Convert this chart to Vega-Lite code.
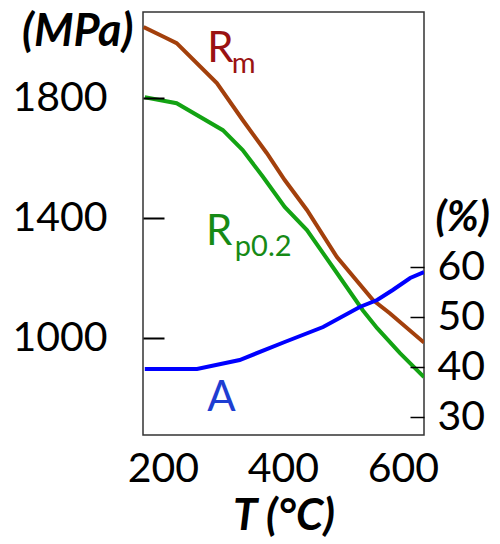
{
  "$schema": "https://vega.github.io/schema/vega-lite/v6.json",
  "width": 281,
  "height": 423,
  "autosize": {"type": "none"},
  "padding": {"left": 143, "top": 12, "right": 76, "bottom": 109},
  "config": {
    "view": {"stroke": "#333333", "strokeWidth": 1.5},
    "font": "Lato",
    "axis": {"grid": false, "labelFont": "Lato", "titleFont": "Lato", "labelColor": "#000000", "titleColor": "#000000", "labelFontSize": 41}
  },
  "datasets": {
    "mpa": [
      {"series": "Rm", "T": 168, "MPa": 2037},
      {"series": "Rm", "T": 203, "MPa": 2003},
      {"series": "Rm", "T": 223, "MPa": 1983},
      {"series": "Rm", "T": 290, "MPa": 1850},
      {"series": "Rm", "T": 333, "MPa": 1727},
      {"series": "Rm", "T": 373, "MPa": 1617},
      {"series": "Rm", "T": 403, "MPa": 1527},
      {"series": "Rm", "T": 440, "MPa": 1427},
      {"series": "Rm", "T": 490, "MPa": 1270},
      {"series": "Rm", "T": 550, "MPa": 1127},
      {"series": "Rm", "T": 578, "MPa": 1083},
      {"series": "Rm", "T": 635, "MPa": 985},
      {"series": "Rp0.2", "T": 170, "MPa": 1803},
      {"series": "Rp0.2", "T": 223, "MPa": 1783},
      {"series": "Rp0.2", "T": 300, "MPa": 1693},
      {"series": "Rp0.2", "T": 333, "MPa": 1627},
      {"series": "Rp0.2", "T": 367, "MPa": 1537},
      {"series": "Rp0.2", "T": 403, "MPa": 1437},
      {"series": "Rp0.2", "T": 440, "MPa": 1360},
      {"series": "Rp0.2", "T": 483, "MPa": 1237},
      {"series": "Rp0.2", "T": 533, "MPa": 1093},
      {"series": "Rp0.2", "T": 557, "MPa": 1033},
      {"series": "Rp0.2", "T": 595, "MPa": 950},
      {"series": "Rp0.2", "T": 635, "MPa": 870}
    ],
    "elong": [
      {"T": 170, "A": 39.6},
      {"T": 257, "A": 39.6},
      {"T": 328, "A": 41.4},
      {"T": 403, "A": 45.0},
      {"T": 467, "A": 48.0},
      {"T": 528, "A": 52.0},
      {"T": 557, "A": 53.4},
      {"T": 583, "A": 55.4},
      {"T": 612, "A": 57.8},
      {"T": 635, "A": 59.0}
    ],
    "labels": [
      {"series": "Rm", "part": "main", "text": "R", "T": 274, "MPa": 1920},
      {"series": "Rm", "part": "sub", "text": "m", "T": 315, "MPa": 1883},
      {"series": "Rp0.2", "part": "main", "text": "R", "T": 272, "MPa": 1310},
      {"series": "Rp0.2", "part": "sub", "text": "p0.2", "T": 320, "MPa": 1273},
      {"series": "A", "part": "main", "text": "A", "T": 274, "MPa": 757}
    ]
  },
  "layer": [
    {
      "layer": [
        {
          "data": {"name": "mpa"},
          "mark": {"type": "line", "strokeWidth": 4, "clip": true},
          "encoding": {
            "x": {"field": "T", "type": "quantitative", "scale": {"domain": [167, 635], "nice": false, "zero": false},
              "axis": {"values": [200, 400, 600], "format": "d", "ticks": false, "domain": false, "labelPadding": 14, "title": "T (°C)", "titleFontSize": 44, "titleFontWeight": "bold", "titleFontStyle": "italic", "titlePadding": 5}},
            "y": {"field": "MPa", "type": "quantitative", "scale": {"domain": [677, 2087], "nice": false, "zero": false},
              "axis": {"orient": "left", "values": [1000, 1400, 1800], "format": "d", "domain": false, "ticks": true, "offset": -21, "tickSize": 21, "tickWidth": 2, "tickColor": "#000000", "tickOpacity": 1, "zindex": 1, "labelPadding": 36, "title": "(MPa)", "titleAngle": 0, "titleAlign": "right", "titleBaseline": "middle", "titleX": -31, "titleY": 19, "titleFontSize": 45, "titleFontWeight": "bold", "titleFontStyle": "italic"}},
            "color": {"field": "series", "type": "nominal", "scale": {"domain": ["Rm", "Rp0.2"], "range": ["#A3400C", "#13A313"]}, "legend": null}
          }
        },
        {
          "data": {"name": "labels"},
          "transform": [{"filter": "datum.part === 'main'"}],
          "mark": {"type": "text", "align": "left", "baseline": "alphabetic", "fontSize": 42},
          "encoding": {
            "x": {"field": "T", "type": "quantitative"},
            "y": {"field": "MPa", "type": "quantitative"},
            "text": {"field": "text"},
            "color": {"field": "series", "type": "nominal", "scale": {"domain": ["Rm", "Rp0.2", "A"], "range": ["#9A1212", "#168A16", "#1E3ED2"]}, "legend": null}
          }
        },
        {
          "data": {"name": "labels"},
          "transform": [{"filter": "datum.part === 'sub'"}],
          "mark": {"type": "text", "align": "left", "baseline": "alphabetic", "fontSize": 29},
          "encoding": {
            "x": {"field": "T", "type": "quantitative"},
            "y": {"field": "MPa", "type": "quantitative"},
            "text": {"field": "text"},
            "color": {"field": "series", "type": "nominal", "scale": {"domain": ["Rm", "Rp0.2"], "range": ["#9A1212", "#168A16"]}, "legend": null}
          }
        }
      ],
      "resolve": {"scale": {"color": "independent"}}
    },
    {
      "data": {"name": "elong"},
      "mark": {"type": "line", "strokeWidth": 4, "color": "#0000FF", "clip": true},
      "encoding": {
        "x": {"field": "T", "type": "quantitative", "scale": {"domain": [167, 635], "nice": false, "zero": false},
          "axis": {"values": [200, 400, 600], "format": "d", "ticks": false, "domain": false, "labelPadding": 14, "title": "T (°C)", "titleFontSize": 44, "titleFontWeight": "bold", "titleFontStyle": "italic", "titlePadding": 5}},
        "y": {"field": "A", "type": "quantitative", "scale": {"domain": [26.4, 111], "nice": false, "zero": false},
          "axis": {"orient": "right", "values": [30, 40, 50, 60], "format": "d", "domain": false, "ticks": true, "offset": -14, "tickSize": 14, "tickWidth": 1.5, "tickColor": "#000000", "tickOpacity": 1, "zindex": 1, "labelPadding": 13, "title": "(%)", "titleAngle": 0, "titleAlign": "left", "titleBaseline": "middle", "titleX": 25, "titleY": 205, "titleFontSize": 42, "titleFontWeight": "bold", "titleFontStyle": "italic"}}
      }
    }
  ],
  "resolve": {"scale": {"y": "independent"}}
}
